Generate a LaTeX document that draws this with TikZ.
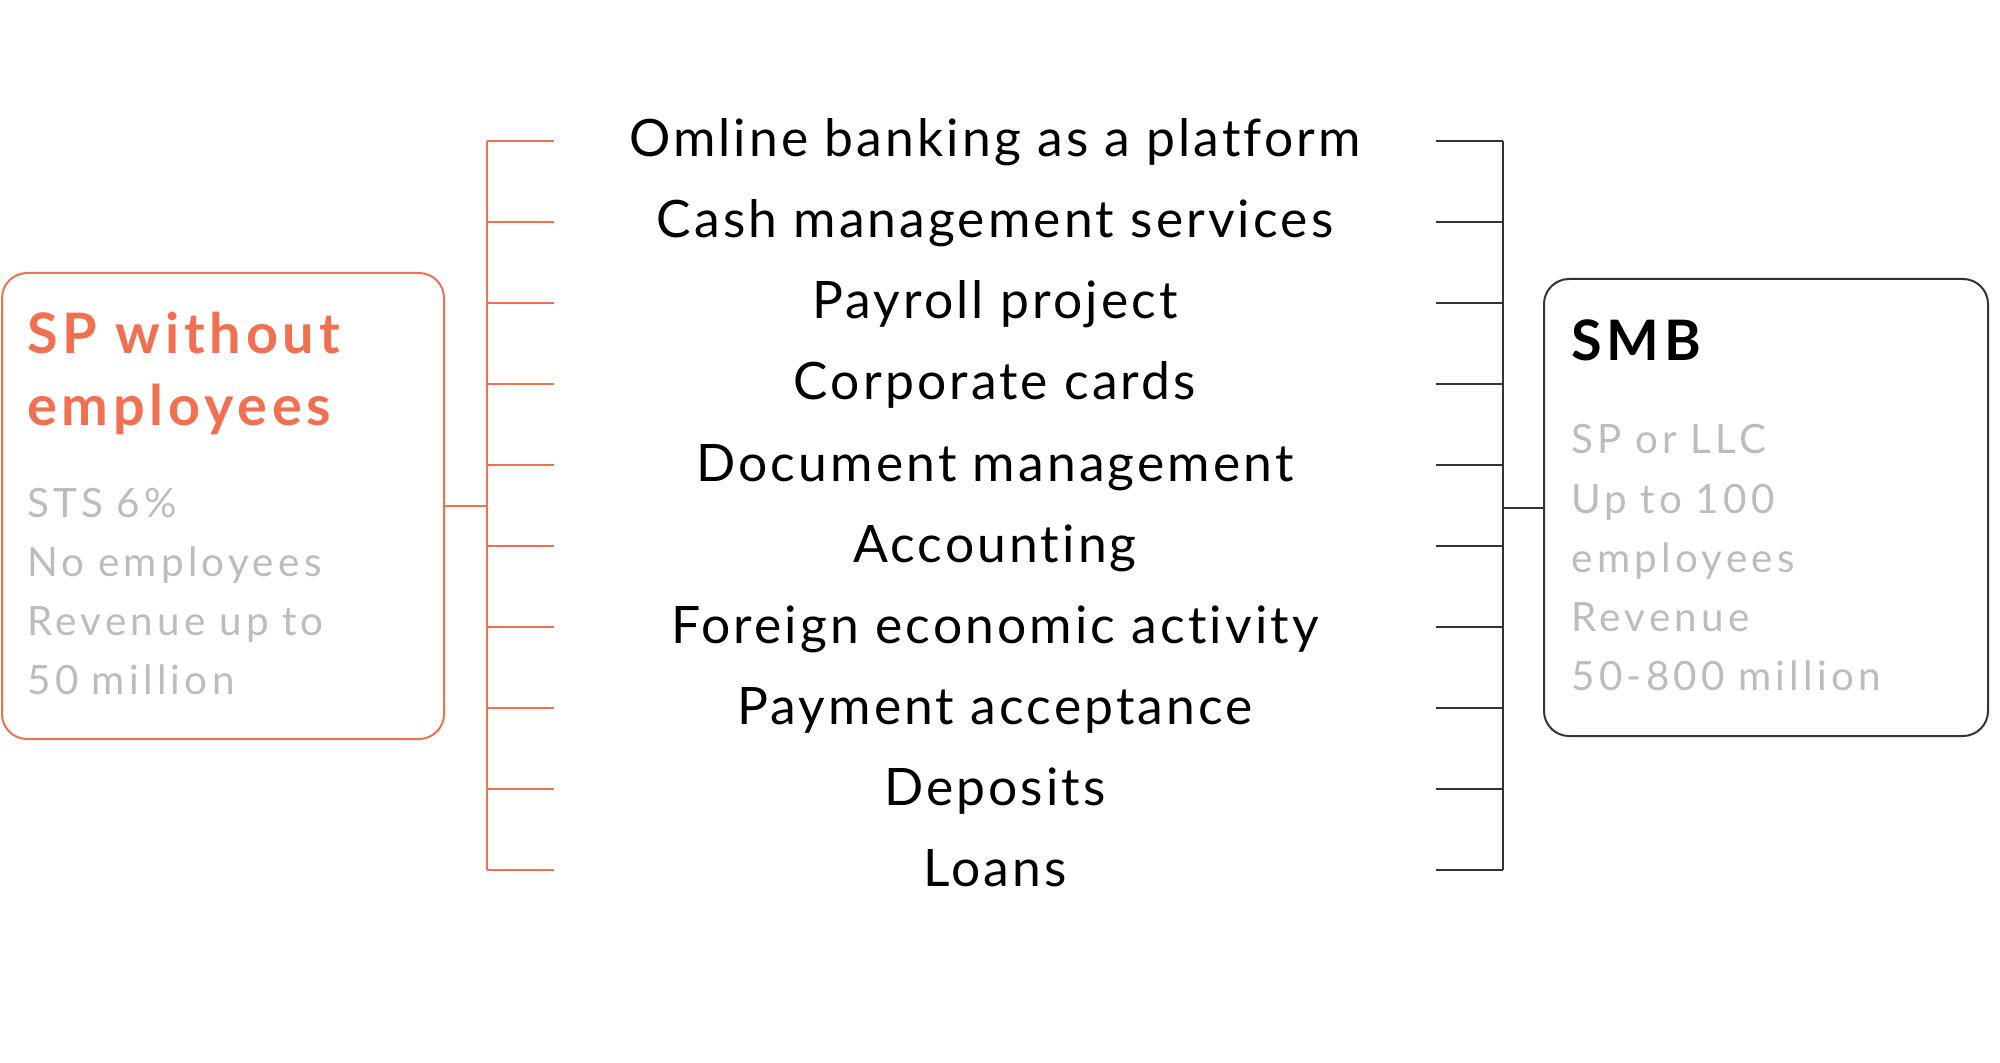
\documentclass[tikz,border=0pt]{standalone}
\usepackage{fontspec}
\setmainfont{Lato}[Ligatures=NoCommon]
\usetikzlibrary{positioning}
\definecolor{spred}{RGB}{241,112,82}
\definecolor{softgrey}{RGB}{188,188,188}
\definecolor{linegrey}{RGB}{51,51,51}

\begin{document}
\begin{tikzpicture}[x=0.5pt, y=0.5pt, node distance=40.5pt,
	item/.style = {font=\fontsize{25.8}{30}\selectfont\addfontfeatures{LetterSpace=6}, text height=18pt, text depth=2pt, inner sep=0pt},
	card/.style = {draw, line width=1pt, rounded corners=12.5pt, inner sep=0pt},
	head/.style = {font=\fontsize{27.9}{36}\selectfont\bfseries\addfontfeatures{LetterSpace=8.5}, text width=200pt, align=left, inner sep=0pt},
	info/.style = {font=\fontsize{20.2}{29.6}\selectfont\addfontfeatures{LetterSpace=10.5}, text width=200pt, align=left, inner sep=0pt, text=softgrey},
	stub/.style = {line width=1pt}]
	\useasboundingbox (0,0) rectangle (2000,-1063);

	% services
	\node[item] (online) at (995,-141) {Omline banking as a platform};
	\node[item] (cash) [below of=online] {Cash management services};
	\node[item] (payroll) [below of=cash] {Payroll project};
	\node[item] (cards) [below of=payroll] {Corporate cards};
	\node[item] (docs) [below of=cards] {Document management};
	\node[item] (accounting) [below of=docs] {Accounting};
	\node[item] (foreign) [below of=accounting] {Foreign economic activity};
	\node[item] (acceptance) [below of=foreign] {Payment acceptance};
	\node[item] (deposits) [below of=acceptance] {Deposits};
	\node[item] (loans) [below of=deposits] {Loans};

	% segments
	\node[card, draw=spred, minimum width=221pt, minimum height=233pt] (sp) at (223,-506) {};
	\node[head, text=spred, below right=41pt and 13pt of sp.north west, anchor=base west] (sptitle) {SP without\\employees};
	\node[info, below right=122.5pt and 13pt of sp.north west, anchor=base west] (spinfo) {STS 6\%\\No employees\\Revenue up to\\50 million};
	\node[card, draw=linegrey, minimum width=222pt, minimum height=228.5pt] (smb) at (1766,-507.5) {};
	\node[head, below right=41.5pt and 14pt of smb.north west, anchor=base west] (smbtitle) {SMB};
	\node[info, below right=88pt and 14pt of smb.north west, anchor=base west] (smbinfo) {SP or LLC\\Up to 100\\employees\\Revenue\\50-800 million};

	\coordinate (lbar) at (487,0);
	\coordinate (ltip) at (554,0);
	\coordinate (rtip) at (1436,0);
	\coordinate (rbar) at (1503,0);

	% left bracket
	\draw[stub, spred] (online -| lbar) -- (loans -| lbar);
	\draw[stub, spred] (sp.east) -- (sp.east -| lbar);
	\draw[stub, spred] (online -| lbar) -- (online -| ltip);
	\draw[stub, spred] (cash -| lbar) -- (cash -| ltip);
	\draw[stub, spred] (payroll -| lbar) -- (payroll -| ltip);
	\draw[stub, spred] (cards -| lbar) -- (cards -| ltip);
	\draw[stub, spred] (docs -| lbar) -- (docs -| ltip);
	\draw[stub, spred] (accounting -| lbar) -- (accounting -| ltip);
	\draw[stub, spred] (foreign -| lbar) -- (foreign -| ltip);
	\draw[stub, spred] (acceptance -| lbar) -- (acceptance -| ltip);
	\draw[stub, spred] (deposits -| lbar) -- (deposits -| ltip);
	\draw[stub, spred] (loans -| lbar) -- (loans -| ltip);

	% right bracket
	\draw[stub, linegrey] (online -| rbar) -- (loans -| rbar);
	\draw[stub, linegrey] (smb.west) -- (smb.west -| rbar);
	\draw[stub, linegrey] (online -| rtip) -- (online -| rbar);
	\draw[stub, linegrey] (cash -| rtip) -- (cash -| rbar);
	\draw[stub, linegrey] (payroll -| rtip) -- (payroll -| rbar);
	\draw[stub, linegrey] (cards -| rtip) -- (cards -| rbar);
	\draw[stub, linegrey] (docs -| rtip) -- (docs -| rbar);
	\draw[stub, linegrey] (accounting -| rtip) -- (accounting -| rbar);
	\draw[stub, linegrey] (foreign -| rtip) -- (foreign -| rbar);
	\draw[stub, linegrey] (acceptance -| rtip) -- (acceptance -| rbar);
	\draw[stub, linegrey] (deposits -| rtip) -- (deposits -| rbar);
	\draw[stub, linegrey] (loans -| rtip) -- (loans -| rbar);
\end{tikzpicture}
\end{document}
